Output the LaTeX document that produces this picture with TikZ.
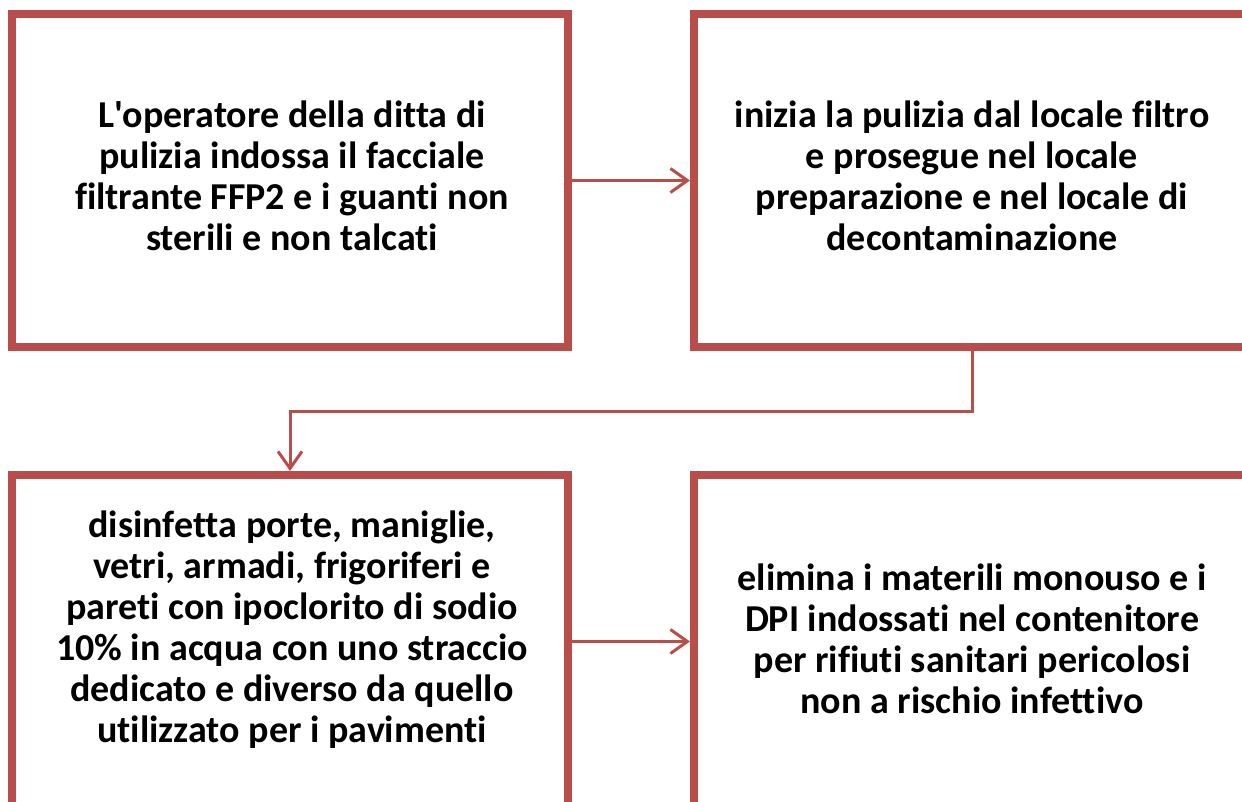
\documentclass[tikz,border=0pt]{standalone}
\usepackage{fontspec}
\setmainfont{Carlito}[Ligatures={NoCommon}]
\usepackage{tikz}
\usetikzlibrary{arrows.meta, positioning}
\usepackage{xcolor}
\definecolor{boxred}{RGB}{185,77,74}

\begin{document}
\begin{tikzpicture}[x=1pt, y=-1pt,
    steptext/.style={font=\bfseries\fontsize{38}{41}\selectfont, align=center},
    stepbox/.style={draw=boxred, line width=8pt, minimum width=556pt, minimum height=333pt, inner sep=0pt},
    flow/.style={draw=boxred, line width=3pt, -{Straight Barb[length=17pt, width=24pt]}}]
    \clip (0,0) rectangle (1242,802);

    % boxes
    \node[stepbox] (b1) at (290,180.5) {};
    \node[stepbox] (b2) at (972,180.5) {};
    \node[stepbox] (b3) at (290,641.5) {};
    \node[stepbox] (b4) at (972,641.5) {};

    % texts
    \node[steptext] (t1) at (292,175.5) {L\textquotesingle operatore della ditta di\\ pulizia indossa il facciale\\ filtrante FFP2 e i guanti non\\ sterili e non talcati};
    \node[steptext] (t2) at (972,175.5) {inizia la pulizia dal locale filtro\\ e prosegue nel locale\\ preparazione e nel locale di\\ decontaminazione};
    \node[steptext] (t3) at (292,630) {disinfetta porte, maniglie,\\ vetri, armadi, frigoriferi e\\ pareti con ipoclorito di sodio\\ 10\% in acqua con uno straccio\\ dedicato e diverso da quello\\ utilizzato per i pavimenti};
    \node[steptext] (t4) at (972,639) {elimina i materili monouso e i\\ DPI indossati nel contenitore\\ per rifiuti sanitari pericolosi\\ non a rischio infettivo};

    \draw[flow] (b1.east) -- (b2.west);
    \draw[flow] (b2.south) -- ++(0,60) -| (b3.north);
    \draw[flow] (b3.east) -- (b4.west);
\end{tikzpicture}
\end{document}
